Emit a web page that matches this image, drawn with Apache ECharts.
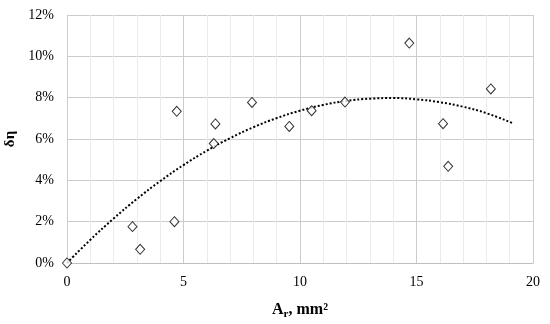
<!DOCTYPE html>
<html><head><meta charset="utf-8">
<script src="https://cdn.jsdelivr.net/npm/echarts@6/dist/echarts.min.js"></script>
<style>html,body{margin:0;padding:0;background:#fff}#c{width:550px;height:324px}</style>
</head><body><div id="c"></div>
<script>
var pointsX = [0, 2.81, 3.14, 4.61, 4.71, 6.37, 6.30, 7.94, 9.54, 10.50, 11.93, 14.69, 16.14, 16.36, 18.19];
var pointsY = [0, 1.76, 0.66, 2.00, 7.34, 6.73, 5.78, 7.77, 6.61, 7.37, 7.79, 10.64, 6.74, 4.68, 8.42];
var trendX = [0, 1, 2, 3, 4, 5, 6, 7, 8, 9, 10, 11, 12, 13, 14, 15, 16, 17, 18, 19.16];
var trendY = [0, 1.12, 2.15, 3.10, 3.96, 4.74, 5.43, 6.04, 6.57, 7.01, 7.37, 7.65, 7.84, 7.95, 7.98, 7.92, 7.78, 7.56, 7.25, 6.75];
var xTicks = [0, 5, 10, 15, 20];
var yTicks = [0, 2, 4, 6, 8, 10, 12];

var font = '"Liberation Serif", "Times New Roman", serif';
var chart = echarts.init(document.getElementById('c'));
chart.setOption({
  animation: false,
  backgroundColor: '#fff',
  grid: {left: 67, right: 17, top: 15, bottom: 61, containLabel: false, outerBoundsMode: 'none'},
  xAxis: {
    type: 'value', min: xTicks[0], max: xTicks[xTicks.length-1], interval: 5,
    name: '{b|A}{s|r}{b|, mm²}', nameLocation: 'middle', nameGap: 37,
    nameTextStyle: {rich: {
      b: {fontFamily: font, fontWeight: 'bold', fontSize: 16, color: '#000'},
      s: {fontFamily: font, fontWeight: 'bold', fontSize: 11, color: '#000', padding: [9, 0, 0, 0]}
    }},
    axisLine: {show: true, lineStyle: {color: '#bfbfbf', width: 1}},
    axisTick: {show: false},
    axisLabel: {fontFamily: font, fontSize: 14, color: '#000', margin: 12},
    splitLine: {show: true, lineStyle: {color: '#cccccc', width: 1}},
    minorTick: {show: false, splitNumber: 5},
    minorSplitLine: {show: true, lineStyle: {color: '#ebebeb', width: 1}}
  },
  yAxis: {
    type: 'value', min: yTicks[0], max: yTicks[yTicks.length-1], interval: 2,
    name: 'δη', nameLocation: 'middle', nameGap: 47, nameRotate: 90,
    nameTextStyle: {fontFamily: font, fontWeight: 'bold', fontSize: 15, color: '#000'},
    axisLine: {show: false},
    axisTick: {show: false},
    axisLabel: {fontFamily: font, fontSize: 14, color: '#000', margin: 13, formatter: function(v){return v + '%';}},
    splitLine: {show: true, lineStyle: {color: '#cccccc', width: 1}}
  },
  series: [
    {
      type: 'line', data: trendX.map(function(x, i){return [x, trendY[i]];}),
      smooth: true, symbol: 'none', z: 2,
      lineStyle: {color: '#000', width: 2, type: [2, 2]}
    },
    {
      type: 'scatter', data: pointsX.map(function(x, i){return [x, pointsY[i]];}),
      symbol: 'diamond', symbolSize: [9, 10], z: 3,
      itemStyle: {color: '#fff', borderColor: '#000', borderWidth: 1}
    }
  ]
});
</script></body></html>
